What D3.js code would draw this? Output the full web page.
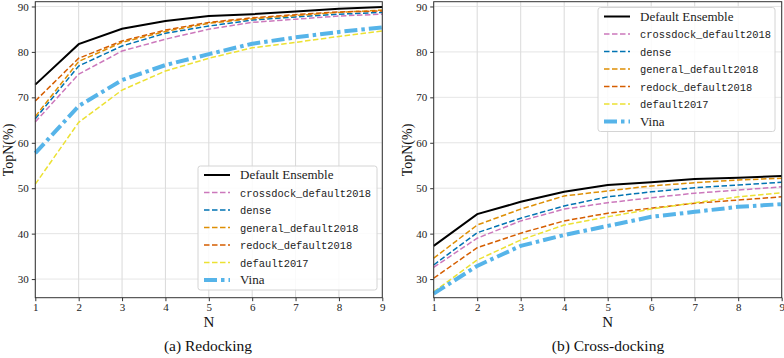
<!DOCTYPE html>
<html><head><meta charset="utf-8">
<script src="https://cdn.jsdelivr.net/npm/d3@7"></script>
<style>body{margin:0;background:#fff}svg{display:block}
.serif{font-family:"Liberation Serif","DejaVu Serif",serif}
.mono{font-family:"Liberation Mono","DejaVu Sans Mono",monospace}
</style>
</head><body>
<svg id="c" width="784" height="358"></svg>
<script>
const xValues = [1,2,3,4,5,6,7,8,9];
const yTicks = [30,40,50,60,70,80,90];
const seriesLabels = ["Default Ensemble","crossdock_default2018","dense","general_default2018","redock_default2018","default2017","Vina"];
// Redocking (a)
const redockEnsemble   = [72.8,81.7,85.1,86.8,87.9,88.3,88.9,89.5,89.9];
const redockCrossdock  = [64.6,75.1,80.2,82.8,85.0,86.5,87.2,87.9,88.3];
const redockDense      = [65.3,76.9,81.3,84.1,85.7,87.0,87.7,88.3,88.7];
const redockGeneral    = [65.8,77.9,82.1,84.5,86.3,87.3,88.0,88.7,89.2];
const redockRedock     = [69.2,78.6,82.4,84.8,86.5,87.5,88.2,88.8,89.0];
const redockDefault2017= [50.9,64.5,71.6,75.8,78.6,80.9,82.1,83.4,84.6];
const redockVina       = [57.7,68.1,73.8,77.1,79.5,81.8,83.2,84.4,85.4];
// Cross-docking (b)
const crossEnsemble    = [37.3,44.3,47.0,49.2,50.7,51.3,52.0,52.3,52.7];
const crossCrossdock   = [32.6,39.0,42.8,45.4,46.8,47.9,48.9,49.6,50.3];
const crossDense       = [33.1,40.2,43.4,46.1,48.1,49.2,50.1,50.7,51.3];
const crossGeneral     = [34.6,41.9,45.4,48.3,49.4,50.5,51.2,51.8,52.2];
const crossRedock      = [30.2,36.9,40.1,42.8,44.5,45.6,46.7,47.4,48.1];
const crossDefault2017 = [27.2,34.2,38.6,41.9,43.7,45.4,46.8,48.1,49.0];
const crossVina        = [26.8,32.9,37.3,39.7,41.7,43.7,44.8,45.9,46.5];

const styles = [
  {color:"#000000", w:2,   dash:null},
  {color:"#CC78BC", w:1.5, dash:"5.5,2.5"},
  {color:"#0173B2", w:1.5, dash:"5.5,2.5"},
  {color:"#DE8F05", w:1.5, dash:"5.5,2.5"},
  {color:"#D55E00", w:1.5, dash:"5.5,2.5"},
  {color:"#ECE133", w:1.5, dash:"5.5,2.5"},
  {color:"#56B4E9", w:4,   dash:"13,4,3.5,4"}
];

const svg = d3.select("#c");

function panel(opt){
  const x = d3.scaleLinear().domain([1,9]).range([opt.x0, opt.x1]);
  const y = d3.scaleLinear().domain([25.9,91.05]).range([297.7, 1.7]);
  const g = svg.append("g");
  g.selectAll(".gx").data(xValues).join("line")
    .attr("x1",d=>x(d)).attr("x2",d=>x(d)).attr("y1",y.range()[0]).attr("y2",y.range()[1])
    .attr("stroke","#cfcfcf").attr("stroke-width",0.8);
  g.selectAll(".gy").data(yTicks).join("line")
    .attr("y1",d=>y(d)).attr("y2",d=>y(d)).attr("x1",opt.x0).attr("x2",opt.x1)
    .attr("stroke","#dedede").attr("stroke-width",0.8);
  const line = d3.line().x((d,i)=>x(xValues[i])).y(d=>y(d));
  opt.data.forEach((vals,k)=>{
    const s = styles[k];
    g.append("path").datum(vals).attr("d",line).attr("fill","none")
      .attr("stroke",s.color).attr("stroke-width",s.w)
      .attr("stroke-dasharray",s.dash);
  });
  g.append("rect").attr("x",opt.x0).attr("y",y.range()[1]).attr("width",opt.x1-opt.x0)
    .attr("height",y.range()[0]-y.range()[1]).attr("fill","none").attr("stroke","#333").attr("stroke-width",1);
  const ax = g.append("g").attr("transform",`translate(0,${y.range()[0]})`)
    .call(d3.axisBottom(x).tickValues(xValues).tickSize(3.5).tickPadding(2.5).tickFormat(d3.format("d")));
  const ay = g.append("g").attr("transform",`translate(${opt.x0},0)`)
    .call(d3.axisLeft(y).tickValues(yTicks).tickSize(3.5).tickPadding(3));
  [ax,ay].forEach(a=>{
    a.attr("font-family",null).attr("font-size",null);
    a.select(".domain").remove();
    a.selectAll("line").attr("stroke","#333");
    a.selectAll("text").attr("class","serif").style("font-size","11px").attr("fill","#222");
  });
  g.append("text").attr("class","serif").attr("x",(opt.x0+opt.x1)/2).attr("y",327).attr("text-anchor","middle")
    .style("font-size","15px").attr("fill","#111").text("N");
  g.append("text").attr("class","serif").attr("transform",`translate(${opt.x0-22},150) rotate(-90)`).attr("text-anchor","middle")
    .style("font-size","14px").attr("fill","#111").text("TopN(%)");
  g.append("text").attr("class","serif").attr("x",opt.capX).attr("y",351).attr("text-anchor","middle")
    .style("font-size","15.5px").attr("fill","#111").text(opt.caption);
  const L = opt.legend;
  const lg = g.append("g").attr("transform",`translate(${L.x},${L.y})`);
  lg.append("rect").attr("x",0).attr("y",0).attr("width",L.w).attr("height",L.h).attr("rx",2.5)
    .attr("fill","#fff").attr("fill-opacity",0.85).attr("stroke","#d4d4d4").attr("stroke-width",1);
  seriesLabels.forEach((lab,k)=>{
    const s = styles[k];
    const cy = 9 + k*17.5;
    lg.append("line").attr("x1",6).attr("x2",32).attr("y1",cy).attr("y2",cy)
      .attr("stroke",s.color).attr("stroke-width",s.w).attr("stroke-dasharray",s.dash);
    const isMono = !(k===0 || k===6);
    lg.append("text").attr("class",isMono?"mono":"serif").attr("x",42).attr("y",cy+4)
      .style("font-size",isMono?"10.4px":"13px").attr("fill","#222").text(lab);
  });
}

panel({x0:35.3, x1:382.3, capX:208, caption:"(a) Redocking",
  data:[redockEnsemble,redockCrossdock,redockDense,redockGeneral,redockRedock,redockDefault2017,redockVina],
  legend:{x:198, y:166, w:179, h:124}});
panel({x0:433.7, x1:781.7, capX:608, caption:"(b) Cross-docking",
  data:[crossEnsemble,crossCrossdock,crossDense,crossGeneral,crossRedock,crossDefault2017,crossVina],
  legend:{x:598, y:7.5, w:177, h:124}});
</script>
</body></html>
